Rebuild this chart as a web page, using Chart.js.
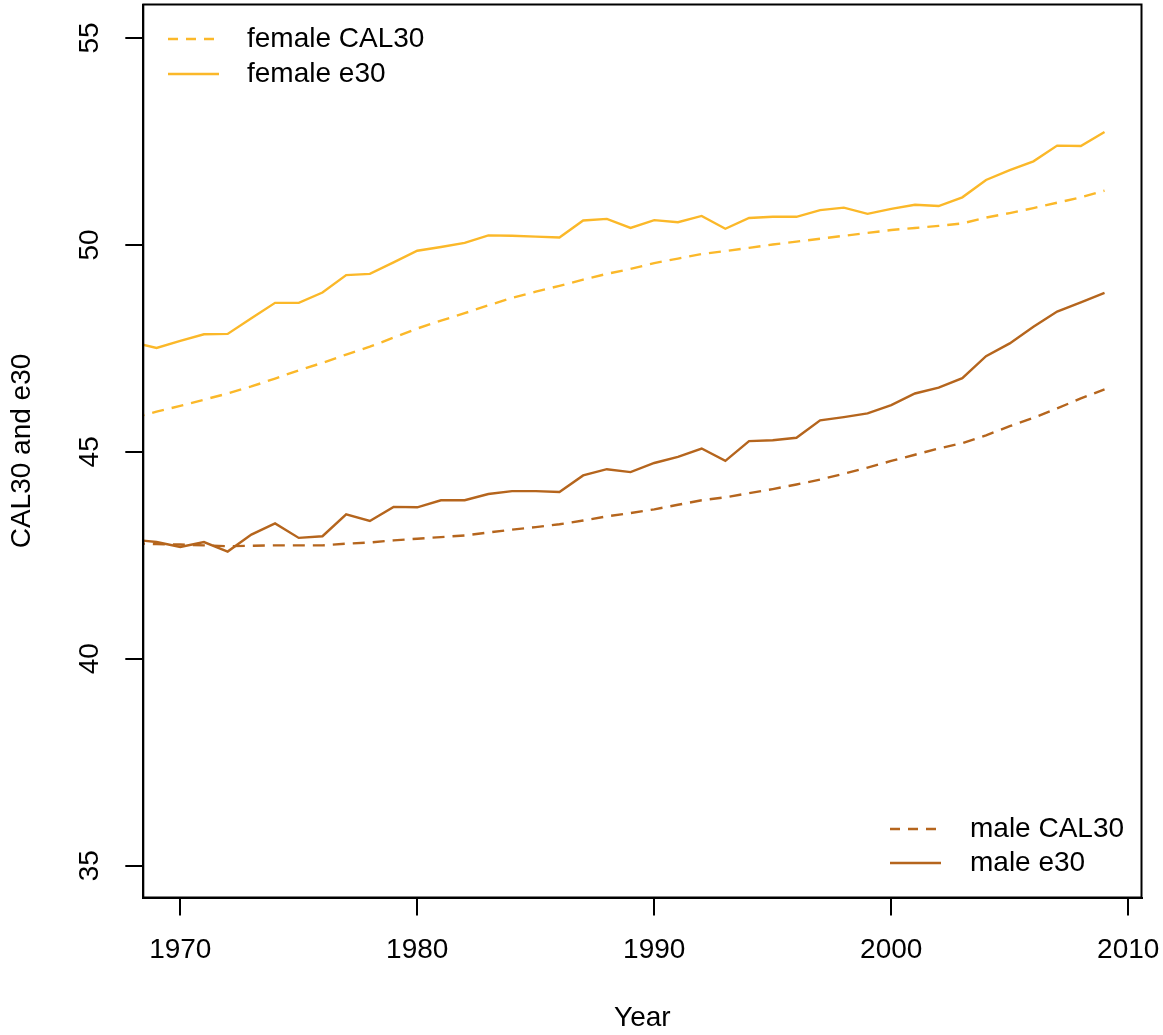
<!DOCTYPE html>
<html>
<head>
<meta charset="utf-8">
<script src="https://cdn.jsdelivr.net/npm/chart.js@4/dist/chart.umd.min.js"></script>
<style>
  html, body { margin: 0; padding: 0; background: #ffffff; }
  #wrap { width: 1163px; height: 1035px; position: relative; }
</style>
</head>
<body>
<div id="wrap"><canvas id="c" width="1163" height="1035"></canvas></div>
<script>
// Years of observation
const years = [1968,1969,1970,1971,1972,1973,1974,1975,1976,1977,1978,1979,1980,1981,1982,1983,1984,1985,1986,1987,1988,1989,1990,1991,1992,1993,1994,1995,1996,1997,1998,1999,2000,2001,2002,2003,2004,2005,2006,2007,2008,2009];

// Female cross-sectional average length of life above 30 (CAL30)
const femaleCAL30 = [45.82,45.97,46.11,46.26,46.41,46.58,46.77,46.97,47.15,47.35,47.54,47.76,47.98,48.17,48.35,48.54,48.72,48.87,49.01,49.16,49.30,49.42,49.56,49.67,49.78,49.85,49.93,50.01,50.08,50.15,50.22,50.29,50.36,50.41,50.46,50.52,50.66,50.77,50.89,51.02,51.15,51.31];

// Female period life expectancy above 30 (e30)
const femaleE30 = [47.65,47.51,47.68,47.84,47.85,48.23,48.60,48.60,48.85,49.27,49.30,49.58,49.86,49.95,50.05,50.23,50.22,50.20,50.18,50.59,50.63,50.41,50.60,50.55,50.70,50.39,50.65,50.68,50.68,50.84,50.90,50.75,50.87,50.97,50.94,51.15,51.57,51.81,52.02,52.40,52.39,52.73];

// Male CAL30
const maleCAL30 = [42.79,42.77,42.76,42.74,42.72,42.73,42.74,42.74,42.74,42.78,42.81,42.86,42.90,42.94,42.98,43.05,43.12,43.18,43.25,43.34,43.44,43.52,43.61,43.72,43.83,43.90,44.00,44.10,44.21,44.33,44.47,44.62,44.78,44.93,45.08,45.21,45.40,45.62,45.82,46.05,46.29,46.51];

// Male e30
const maleE30 = [42.88,42.82,42.70,42.82,42.59,43.00,43.27,42.92,42.96,43.49,43.33,43.67,43.66,43.83,43.83,43.98,44.05,44.05,44.03,44.43,44.58,44.51,44.73,44.88,45.08,44.78,45.26,45.28,45.34,45.76,45.84,45.93,46.13,46.41,46.55,46.78,47.31,47.62,48.02,48.39,48.61,48.84];

// Tick labels
const xTicks = [1970,1980,1990,2000,2010];
const yTicks = [35,40,45,50,55];

const FEMALE = '#FBB829';
const MALE = '#B5651D';
const DASH = [12, 8];
const LW = 2.4;
const FONT = '"Liberation Sans", Arial, Helvetica, sans-serif';

function pts(ys) { return years.map((x, i) => ({ x: x, y: ys[i] })); }

// Box, tick labels, axis titles and the two legends
const frame = {
  id: 'frame',
  afterDraw(chart) {
    const ctx = chart.ctx;
    const a = chart.chartArea;
    const xs = chart.scales.x, ys = chart.scales.y;
    ctx.save();
    ctx.strokeStyle = '#000';
    ctx.lineWidth = 2;
    ctx.strokeRect(a.left, a.top, a.right - a.left, a.bottom - a.top);

    ctx.fillStyle = '#000';
    ctx.font = '28px ' + FONT;
    ctx.textAlign = 'center';
    ctx.textBaseline = 'middle';
    xTicks.forEach(v => ctx.fillText(String(v), xs.getPixelForValue(v), 950));
    yTicks.forEach(v => {
      ctx.save();
      ctx.translate(90, ys.getPixelForValue(v));
      ctx.rotate(-Math.PI / 2);
      ctx.fillText(String(v), 0, 0);
      ctx.restore();
    });

    ctx.fillText('Year', (a.left + a.right) / 2, 1018);
    ctx.save();
    ctx.translate(22, (a.top + a.bottom) / 2);
    ctx.rotate(-Math.PI / 2);
    ctx.fillText('CAL30 and e30', 0, 0);
    ctx.restore();

    function legendRow(x0, x1, y, color, dashed, text, tx) {
      ctx.save();
      ctx.strokeStyle = color;
      ctx.lineWidth = LW;
      ctx.setLineDash(dashed ? [10, 8] : []);
      ctx.beginPath();
      ctx.moveTo(x0, y);
      ctx.lineTo(x1, y);
      ctx.stroke();
      ctx.restore();
      ctx.textAlign = 'left';
      ctx.fillText(text, tx, y);
    }
    legendRow(168, 219, 39, FEMALE, true, 'female CAL30', 247);
    legendRow(168, 219, 74, FEMALE, false, 'female e30', 247);
    legendRow(890, 941, 829, MALE, true, 'male CAL30', 970);
    legendRow(890, 941, 863, MALE, false, 'male e30', 970);
    ctx.restore();
  }
};

new Chart(document.getElementById('c'), {
  type: 'line',
  data: {
    datasets: [
      { label: 'female CAL30', data: pts(femaleCAL30), borderColor: FEMALE, borderDash: DASH, borderWidth: LW },
      { label: 'female e30', data: pts(femaleE30), borderColor: FEMALE, borderWidth: LW },
      { label: 'male CAL30', data: pts(maleCAL30), borderColor: MALE, borderDash: DASH, borderWidth: LW },
      { label: 'male e30', data: pts(maleE30), borderColor: MALE, borderWidth: LW }
    ]
  },
  options: {
    responsive: false,
    animation: false,
    events: [],
    layout: { padding: { top: 4.5, right: 21.5, left: 0, bottom: 0 } },
    elements: { point: { radius: 0 }, line: { tension: 0, fill: false } },
    plugins: { legend: { display: false }, tooltip: { enabled: false } },
    scales: {
      x: {
        type: 'linear',
        min: 1968.44,
        max: 2010.56,
        afterFit(s) { s.height = 137.5; },
        ticks: { display: false, stepSize: 10, includeBounds: false },
        grid: { display: true, drawOnChartArea: false, drawTicks: true, tickLength: 18, color: '#000', lineWidth: 2 },
        border: { display: true, color: '#000', width: 2 }
      },
      y: {
        type: 'linear',
        min: 34.23,
        max: 55.81,
        afterFit(s) { s.width = 143.3; },
        ticks: { display: false, stepSize: 5, includeBounds: false },
        grid: { display: true, drawOnChartArea: false, drawTicks: true, tickLength: 18, color: '#000', lineWidth: 2 },
        border: { display: true, color: '#000', width: 2 }
      }
    }
  },
  plugins: [frame]
});
</script>
</body>
</html>
